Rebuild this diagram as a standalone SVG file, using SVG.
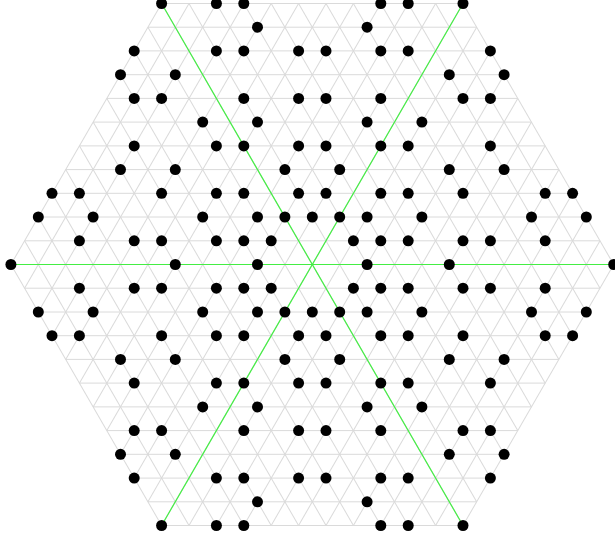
<svg xmlns="http://www.w3.org/2000/svg" xmlns:xlink="http://www.w3.org/1999/xlink" width="615" height="540" viewBox="0 0 615 540">
<style>
.grid line{stroke:#dadada;stroke-width:1;fill:none}
.axis{stroke:#44ee44;stroke-width:1.2;fill:none}
.dot{fill:#000}
</style>
<defs>
<g id="hlines" class="grid">
<line x1="161.6" y1="3.5" x2="463.0" y2="3.5"/>
<line x1="147.9" y1="27.2" x2="476.7" y2="27.2"/>
<line x1="134.2" y1="50.9" x2="490.4" y2="50.9"/>
<line x1="120.5" y1="74.7" x2="504.1" y2="74.7"/>
<line x1="106.8" y1="98.4" x2="517.8" y2="98.4"/>
<line x1="93.1" y1="122.1" x2="531.5" y2="122.1"/>
<line x1="79.4" y1="145.9" x2="545.2" y2="145.9"/>
<line x1="65.7" y1="169.6" x2="558.9" y2="169.6"/>
<line x1="52.0" y1="193.3" x2="572.6" y2="193.3"/>
<line x1="38.3" y1="217.0" x2="586.3" y2="217.0"/>
<line x1="24.6" y1="240.8" x2="600.0" y2="240.8"/>
<line x1="10.9" y1="264.5" x2="613.7" y2="264.5"/>
<line x1="24.6" y1="288.2" x2="600.0" y2="288.2"/>
<line x1="38.3" y1="312.0" x2="586.3" y2="312.0"/>
<line x1="52.0" y1="335.7" x2="572.6" y2="335.7"/>
<line x1="65.7" y1="359.4" x2="558.9" y2="359.4"/>
<line x1="79.4" y1="383.1" x2="545.2" y2="383.1"/>
<line x1="93.1" y1="406.9" x2="531.5" y2="406.9"/>
<line x1="106.8" y1="430.6" x2="517.8" y2="430.6"/>
<line x1="120.5" y1="454.3" x2="504.1" y2="454.3"/>
<line x1="134.2" y1="478.1" x2="490.4" y2="478.1"/>
<line x1="147.9" y1="501.8" x2="476.7" y2="501.8"/>
<line x1="161.6" y1="525.5" x2="463.0" y2="525.5"/>
</g>
</defs>
<g id="grid">
<use xlink:href="#hlines" href="#hlines"/>
<use xlink:href="#hlines" href="#hlines" transform="rotate(60 312.3 264.5)"/>
<use xlink:href="#hlines" href="#hlines" transform="rotate(120 312.3 264.5)"/>
</g>
<g id="connectors">
<line class="axis" x1="10.9" y1="264.5" x2="613.7" y2="264.5"/>
<line class="axis" x1="161.6" y1="3.5" x2="463.0" y2="525.5"/>
<line class="axis" x1="463.0" y1="3.5" x2="161.6" y2="525.5"/>
</g>
<g id="nodes" class="dot">
<g id="row-11"><circle cx="161.6" cy="3.5" r="5.5"/><circle cx="216.4" cy="3.5" r="5.5"/><circle cx="243.8" cy="3.5" r="5.5"/><circle cx="380.8" cy="3.5" r="5.5"/><circle cx="408.2" cy="3.5" r="5.5"/><circle cx="463.0" cy="3.5" r="5.5"/></g>
<g id="row-10"><circle cx="257.5" cy="27.2" r="5.5"/><circle cx="367.1" cy="27.2" r="5.5"/></g>
<g id="row-9"><circle cx="134.2" cy="50.9" r="5.5"/><circle cx="216.4" cy="50.9" r="5.5"/><circle cx="243.8" cy="50.9" r="5.5"/><circle cx="298.6" cy="50.9" r="5.5"/><circle cx="326.0" cy="50.9" r="5.5"/><circle cx="380.8" cy="50.9" r="5.5"/><circle cx="408.2" cy="50.9" r="5.5"/><circle cx="490.4" cy="50.9" r="5.5"/></g>
<g id="row-8"><circle cx="120.5" cy="74.7" r="5.5"/><circle cx="175.3" cy="74.7" r="5.5"/><circle cx="449.3" cy="74.7" r="5.5"/><circle cx="504.1" cy="74.7" r="5.5"/></g>
<g id="row-7"><circle cx="134.2" cy="98.4" r="5.5"/><circle cx="161.6" cy="98.4" r="5.5"/><circle cx="243.8" cy="98.4" r="5.5"/><circle cx="298.6" cy="98.4" r="5.5"/><circle cx="326.0" cy="98.4" r="5.5"/><circle cx="380.8" cy="98.4" r="5.5"/><circle cx="463.0" cy="98.4" r="5.5"/><circle cx="490.4" cy="98.4" r="5.5"/></g>
<g id="row-6"><circle cx="202.7" cy="122.1" r="5.5"/><circle cx="257.5" cy="122.1" r="5.5"/><circle cx="367.1" cy="122.1" r="5.5"/><circle cx="421.9" cy="122.1" r="5.5"/></g>
<g id="row-5"><circle cx="134.2" cy="145.9" r="5.5"/><circle cx="216.4" cy="145.9" r="5.5"/><circle cx="243.8" cy="145.9" r="5.5"/><circle cx="298.6" cy="145.9" r="5.5"/><circle cx="326.0" cy="145.9" r="5.5"/><circle cx="380.8" cy="145.9" r="5.5"/><circle cx="408.2" cy="145.9" r="5.5"/><circle cx="490.4" cy="145.9" r="5.5"/></g>
<g id="row-4"><circle cx="120.5" cy="169.6" r="5.5"/><circle cx="175.3" cy="169.6" r="5.5"/><circle cx="284.9" cy="169.6" r="5.5"/><circle cx="339.7" cy="169.6" r="5.5"/><circle cx="449.3" cy="169.6" r="5.5"/><circle cx="504.1" cy="169.6" r="5.5"/></g>
<g id="row-3"><circle cx="52.0" cy="193.3" r="5.5"/><circle cx="79.4" cy="193.3" r="5.5"/><circle cx="161.6" cy="193.3" r="5.5"/><circle cx="216.4" cy="193.3" r="5.5"/><circle cx="243.8" cy="193.3" r="5.5"/><circle cx="298.6" cy="193.3" r="5.5"/><circle cx="326.0" cy="193.3" r="5.5"/><circle cx="380.8" cy="193.3" r="5.5"/><circle cx="408.2" cy="193.3" r="5.5"/><circle cx="463.0" cy="193.3" r="5.5"/><circle cx="545.2" cy="193.3" r="5.5"/><circle cx="572.6" cy="193.3" r="5.5"/></g>
<g id="row-2"><circle cx="38.3" cy="217.0" r="5.5"/><circle cx="93.1" cy="217.0" r="5.5"/><circle cx="202.7" cy="217.0" r="5.5"/><circle cx="257.5" cy="217.0" r="5.5"/><circle cx="284.9" cy="217.0" r="5.5"/><circle cx="312.3" cy="217.0" r="5.5"/><circle cx="339.7" cy="217.0" r="5.5"/><circle cx="367.1" cy="217.0" r="5.5"/><circle cx="421.9" cy="217.0" r="5.5"/><circle cx="531.5" cy="217.0" r="5.5"/><circle cx="586.3" cy="217.0" r="5.5"/></g>
<g id="row-1"><circle cx="79.4" cy="240.8" r="5.5"/><circle cx="134.2" cy="240.8" r="5.5"/><circle cx="161.6" cy="240.8" r="5.5"/><circle cx="216.4" cy="240.8" r="5.5"/><circle cx="243.8" cy="240.8" r="5.5"/><circle cx="271.2" cy="240.8" r="5.5"/><circle cx="353.4" cy="240.8" r="5.5"/><circle cx="380.8" cy="240.8" r="5.5"/><circle cx="408.2" cy="240.8" r="5.5"/><circle cx="463.0" cy="240.8" r="5.5"/><circle cx="490.4" cy="240.8" r="5.5"/><circle cx="545.2" cy="240.8" r="5.5"/></g>
<g id="row0"><circle cx="10.9" cy="264.5" r="5.5"/><circle cx="175.3" cy="264.5" r="5.5"/><circle cx="257.5" cy="264.5" r="5.5"/><circle cx="367.1" cy="264.5" r="5.5"/><circle cx="449.3" cy="264.5" r="5.5"/><circle cx="613.7" cy="264.5" r="5.5"/></g>
<g id="row1"><circle cx="79.4" cy="288.2" r="5.5"/><circle cx="134.2" cy="288.2" r="5.5"/><circle cx="161.6" cy="288.2" r="5.5"/><circle cx="216.4" cy="288.2" r="5.5"/><circle cx="243.8" cy="288.2" r="5.5"/><circle cx="271.2" cy="288.2" r="5.5"/><circle cx="353.4" cy="288.2" r="5.5"/><circle cx="380.8" cy="288.2" r="5.5"/><circle cx="408.2" cy="288.2" r="5.5"/><circle cx="463.0" cy="288.2" r="5.5"/><circle cx="490.4" cy="288.2" r="5.5"/><circle cx="545.2" cy="288.2" r="5.5"/></g>
<g id="row2"><circle cx="38.3" cy="312.0" r="5.5"/><circle cx="93.1" cy="312.0" r="5.5"/><circle cx="202.7" cy="312.0" r="5.5"/><circle cx="257.5" cy="312.0" r="5.5"/><circle cx="284.9" cy="312.0" r="5.5"/><circle cx="312.3" cy="312.0" r="5.5"/><circle cx="339.7" cy="312.0" r="5.5"/><circle cx="367.1" cy="312.0" r="5.5"/><circle cx="421.9" cy="312.0" r="5.5"/><circle cx="531.5" cy="312.0" r="5.5"/><circle cx="586.3" cy="312.0" r="5.5"/></g>
<g id="row3"><circle cx="52.0" cy="335.7" r="5.5"/><circle cx="79.4" cy="335.7" r="5.5"/><circle cx="161.6" cy="335.7" r="5.5"/><circle cx="216.4" cy="335.7" r="5.5"/><circle cx="243.8" cy="335.7" r="5.5"/><circle cx="298.6" cy="335.7" r="5.5"/><circle cx="326.0" cy="335.7" r="5.5"/><circle cx="380.8" cy="335.7" r="5.5"/><circle cx="408.2" cy="335.7" r="5.5"/><circle cx="463.0" cy="335.7" r="5.5"/><circle cx="545.2" cy="335.7" r="5.5"/><circle cx="572.6" cy="335.7" r="5.5"/></g>
<g id="row4"><circle cx="120.5" cy="359.4" r="5.5"/><circle cx="175.3" cy="359.4" r="5.5"/><circle cx="284.9" cy="359.4" r="5.5"/><circle cx="339.7" cy="359.4" r="5.5"/><circle cx="449.3" cy="359.4" r="5.5"/><circle cx="504.1" cy="359.4" r="5.5"/></g>
<g id="row5"><circle cx="134.2" cy="383.1" r="5.5"/><circle cx="216.4" cy="383.1" r="5.5"/><circle cx="243.8" cy="383.1" r="5.5"/><circle cx="298.6" cy="383.1" r="5.5"/><circle cx="326.0" cy="383.1" r="5.5"/><circle cx="380.8" cy="383.1" r="5.5"/><circle cx="408.2" cy="383.1" r="5.5"/><circle cx="490.4" cy="383.1" r="5.5"/></g>
<g id="row6"><circle cx="202.7" cy="406.9" r="5.5"/><circle cx="257.5" cy="406.9" r="5.5"/><circle cx="367.1" cy="406.9" r="5.5"/><circle cx="421.9" cy="406.9" r="5.5"/></g>
<g id="row7"><circle cx="134.2" cy="430.6" r="5.5"/><circle cx="161.6" cy="430.6" r="5.5"/><circle cx="243.8" cy="430.6" r="5.5"/><circle cx="298.6" cy="430.6" r="5.5"/><circle cx="326.0" cy="430.6" r="5.5"/><circle cx="380.8" cy="430.6" r="5.5"/><circle cx="463.0" cy="430.6" r="5.5"/><circle cx="490.4" cy="430.6" r="5.5"/></g>
<g id="row8"><circle cx="120.5" cy="454.3" r="5.5"/><circle cx="175.3" cy="454.3" r="5.5"/><circle cx="449.3" cy="454.3" r="5.5"/><circle cx="504.1" cy="454.3" r="5.5"/></g>
<g id="row9"><circle cx="134.2" cy="478.1" r="5.5"/><circle cx="216.4" cy="478.1" r="5.5"/><circle cx="243.8" cy="478.1" r="5.5"/><circle cx="298.6" cy="478.1" r="5.5"/><circle cx="326.0" cy="478.1" r="5.5"/><circle cx="380.8" cy="478.1" r="5.5"/><circle cx="408.2" cy="478.1" r="5.5"/><circle cx="490.4" cy="478.1" r="5.5"/></g>
<g id="row10"><circle cx="257.5" cy="501.8" r="5.5"/><circle cx="367.1" cy="501.8" r="5.5"/></g>
<g id="row11"><circle cx="161.6" cy="525.5" r="5.5"/><circle cx="216.4" cy="525.5" r="5.5"/><circle cx="243.8" cy="525.5" r="5.5"/><circle cx="380.8" cy="525.5" r="5.5"/><circle cx="408.2" cy="525.5" r="5.5"/><circle cx="463.0" cy="525.5" r="5.5"/></g>
</g>
</svg>
